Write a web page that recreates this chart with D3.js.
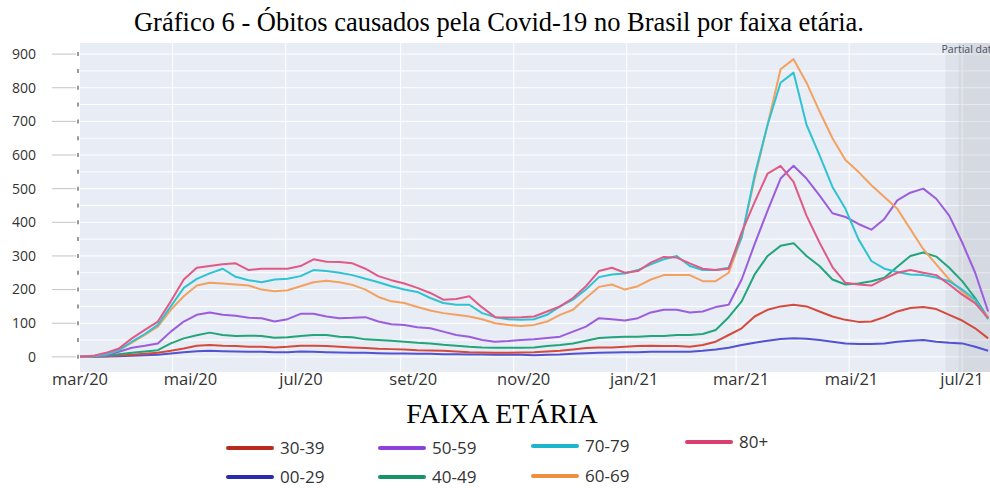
<!DOCTYPE html>
<html>
<head>
<meta charset="utf-8">
<script src="https://cdn.jsdelivr.net/npm/d3@7"></script>
<style>
  body { margin: 0; background: #fff; }
  svg { display: block; }
</style>
</head>
<body>
<svg id="chart" width="990" height="488"></svg>
<script>
// weekly points, starting 12/03/2020
var startDate = new Date(2020, 2, 12);
var dates = d3.timeDay.range(startDate, new Date(2021, 6, 16), 7);

var ageGroups = ['00-29', '30-39', '40-49', '50-59', '60-69', '70-79', '80+'];

var s0029 = [0,0,1,2,3,5,6,10,14,17,18,17,16,15,15,14,14,16,15,14,13,12,12,11,10,10,9,9,8,8,7,7,6,6,6,5,6,7,9,11,12,13,14,14,15,15,15,15,18,22,27,35,42,48,53,55,54,50,45,40,38,38,40,45,48,50,45,42,40,30,18];
var s3039 = [0,1,2,4,6,9,12,18,25,33,35,33,32,30,30,28,30,33,33,32,30,28,26,24,23,22,20,19,18,16,14,13,12,12,13,14,16,18,22,26,28,28,30,32,33,32,32,30,35,45,65,85,120,140,150,155,150,135,120,110,104,105,118,135,145,148,142,125,108,85,55];
var s4049 = [0,1,3,8,12,16,20,40,55,64,72,65,62,63,62,57,58,62,65,65,60,58,52,50,48,45,42,40,36,33,30,28,27,27,27,28,32,35,40,48,56,58,60,60,62,62,65,65,68,80,118,165,245,300,330,338,300,270,230,215,218,225,235,268,300,310,298,265,225,175,115];
var s5059 = [0,2,5,15,27,33,40,75,105,125,132,125,122,116,115,105,112,128,128,120,115,116,118,105,97,95,88,85,75,65,60,50,45,47,50,52,56,60,75,90,115,112,108,115,132,140,140,132,135,148,155,230,335,435,530,568,530,480,427,416,395,378,410,465,488,500,470,420,340,250,135];
var s6069 = [0,2,8,20,42,65,90,140,180,212,220,218,215,212,200,195,198,210,222,226,222,214,200,178,165,160,148,138,130,125,120,112,100,95,92,95,105,125,140,175,208,215,200,210,230,243,243,243,225,225,250,355,530,690,855,885,815,730,650,585,550,510,475,440,380,320,275,230,195,160,118];
var s7079 = [0,2,8,20,45,68,95,150,205,232,248,262,238,228,222,230,232,240,258,255,250,243,232,222,210,200,193,175,160,155,155,130,118,112,110,112,125,150,170,200,237,245,248,258,275,290,300,270,258,258,265,355,540,690,815,845,690,600,505,440,350,285,262,252,245,243,236,225,200,170,112];
var s80 = [0,3,12,25,55,80,105,165,230,265,270,275,278,258,262,262,262,270,290,283,282,278,262,240,228,218,205,190,170,172,180,147,118,117,118,120,135,150,175,210,255,265,250,255,280,297,295,278,262,258,262,370,460,545,568,520,420,340,267,220,215,212,232,250,258,250,243,215,185,160,115];

var seriesValues = [s0029, s3039, s4049, s5059, s6069, s7079, s80];
var lineColors = ['#5252d2', '#d44a3c', '#22a57b', '#9c5ddd', '#f3a15f', '#2ec3d2', '#e05a86'];
var legendColors = ['#2a2aac', '#b8291f', '#17936c', '#8a42d8', '#ee8f40', '#1cb6cc', '#db3f6f'];

var yTicks = d3.range(0, 901, 100);
var yMinor = d3.range(0, 901, 50);
var xTickDates = [new Date(2020, 2, 1), new Date(2020, 4, 1), new Date(2020, 6, 1), new Date(2020, 8, 1),
                  new Date(2020, 10, 1), new Date(2021, 0, 1), new Date(2021, 2, 1), new Date(2021, 4, 1),
                  new Date(2021, 6, 1)];
var xTickLabels = ['mar/20', 'mai/20', 'jul/20', 'set/20', 'nov/20', 'jan/21', 'mar/21', 'mai/21', 'jul/21'];
var partialStart = new Date(2021, 5, 22),
    partialInner = new Date(2021, 5, 29);

var svg = d3.select('#chart');
var plotLeft = 80, plotRight = 990, plotTop = 43, plotBottom = 372;

var x = d3.scaleTime()
    .domain([startDate, new Date(2021, 6, 16)])
    .range([plotLeft, plotRight]);

// the labels below the axis sit on a slightly different spacing
var xLabel = d3.scaleTime()
    .domain([xTickDates[0], xTickDates[xTickDates.length - 1]])
    .range([80, 962]);

var y = d3.scaleLinear()
    .domain([-45, 933])
    .range([plotBottom, plotTop]);

// title
svg.append('text')
    .attr('x', 499)
    .attr('y', 31)
    .attr('text-anchor', 'middle')
    .style('font-family', '"Liberation Serif", "Times New Roman", serif')
    .style('font-size', '26.5px')
    .attr('fill', '#000')
    .text('Gráfico 6 - Óbitos causados pela Covid-19 no Brasil por faixa etária.');

// plot background
svg.append('rect')
    .attr('x', plotLeft)
    .attr('y', plotTop)
    .attr('width', plotRight - plotLeft)
    .attr('height', plotBottom - plotTop)
    .attr('fill', '#e7ecf5');

// grid
svg.append('g')
    .selectAll('line')
    .data(yMinor)
    .enter()
    .append('line')
    .attr('x1', plotLeft)
    .attr('x2', plotRight)
    .attr('y1', function(d){ return y(d); })
    .attr('y2', function(d){ return y(d); })
    .attr('stroke', '#fff')
    .attr('stroke-width', 1);

svg.append('g')
    .selectAll('line')
    .data(xTickDates.slice(1))
    .enter()
    .append('line')
    .attr('x1', function(d){ return x(d); })
    .attr('x2', function(d){ return x(d); })
    .attr('y1', plotTop)
    .attr('y2', plotBottom)
    .attr('stroke', '#fff')
    .attr('stroke-width', 1);

// partial data shading
svg.append('rect')
    .attr('x', x(partialStart))
    .attr('y', plotTop)
    .attr('width', plotRight - x(partialStart))
    .attr('height', plotBottom - plotTop)
    .attr('fill', '#7a8294')
    .attr('opacity', 0.09);
svg.append('rect')
    .attr('x', x(partialInner))
    .attr('y', plotTop)
    .attr('width', plotRight - x(partialInner))
    .attr('height', plotBottom - plotTop)
    .attr('fill', '#7a8294')
    .attr('opacity', 0.09);
svg.append('text')
    .attr('x', x(partialStart) - 4)
    .attr('y', 53)
    .style('font-family', '"Open Sans", sans-serif')
    .style('font-size', '10.5px')
    .attr('fill', '#4a5060')
    .text('Partial data');

// y axis: long ticks + small dashes
svg.append('g')
    .selectAll('line')
    .data(yTicks)
    .enter()
    .append('line')
    .attr('x1', 52)
    .attr('x2', 76)
    .attr('y1', function(d){ return y(d); })
    .attr('y2', function(d){ return y(d); })
    .attr('stroke', '#c4c4c4')
    .attr('stroke-width', 1);

svg.append('g')
    .selectAll('line')
    .data(yMinor)
    .enter()
    .append('line')
    .attr('x1', 78)
    .attr('x2', 78)
    .attr('y1', function(d){ return y(d) - 2; })
    .attr('y2', function(d){ return y(d) + 2; })
    .attr('stroke', '#555')
    .attr('stroke-width', 1.2);

svg.append('g')
    .selectAll('text')
    .data(yTicks)
    .enter()
    .append('text')
    .attr('x', 36)
    .attr('y', function(d){ return y(d); })
    .attr('dy', '0.35em')
    .attr('text-anchor', 'end')
    .style('font-family', '"Open Sans", sans-serif')
    .style('font-size', '14px')
    .attr('fill', '#333')
    .text(function(d){ return d; });

// x labels
svg.append('g')
    .selectAll('text')
    .data(xTickDates)
    .enter()
    .append('text')
    .attr('x', function(d){ return xLabel(d); })
    .attr('y', 385)
    .attr('text-anchor', 'middle')
    .style('font-family', '"Open Sans", sans-serif')
    .style('font-size', '16.5px')
    .attr('fill', '#333')
    .text(function(d, i){ return xTickLabels[i]; });

// lines
svg.append('clipPath')
    .attr('id', 'plotClip')
    .append('rect')
    .attr('x', plotLeft)
    .attr('y', plotTop)
    .attr('width', plotRight - plotLeft)
    .attr('height', plotBottom - plotTop);

var line = d3.line()
    .x(function(d, i){ return x(dates[i]); })
    .y(function(d){ return y(d); });

svg.append('g')
    .attr('clip-path', 'url(#plotClip)')
    .selectAll('path')
    .data(seriesValues)
    .enter()
    .append('path')
    .attr('d', line)
    .attr('fill', 'none')
    .attr('stroke', function(d, i){ return lineColors[i]; })
    .attr('stroke-width', 2)
    .attr('stroke-linejoin', 'round');

// legend
svg.append('text')
    .attr('x', 502)
    .attr('y', 423)
    .attr('text-anchor', 'middle')
    .style('font-family', '"Liberation Serif", "Times New Roman", serif')
    .style('font-size', '28px')
    .attr('fill', '#000')
    .text('FAIXA ETÁRIA');

// legend slots: column x, row y for each age group
var legendX = [228, 228, 380, 380, 533, 533, 687];
var legendY = [477, 448, 477, 448, 476, 446, 442];

var legend = svg.append('g')
    .selectAll('g')
    .data(ageGroups)
    .enter()
    .append('g')
    .attr('transform', function(d, i){
        return 'translate(' + legendX[i] + ',' + legendY[i] + ')';
    });

legend.append('line')
    .attr('x1', 0)
    .attr('x2', 44)
    .attr('stroke', function(d, i){ return legendColors[i]; })
    .attr('stroke-width', 4)
    .attr('stroke-linecap', 'round');

legend.append('text')
    .attr('x', 52)
    .attr('dy', '0.36em')
    .style('font-family', '"Open Sans", sans-serif')
    .style('font-size', '17px')
    .attr('fill', '#333')
    .text(function(d){ return d; });
</script>
</body>
</html>
